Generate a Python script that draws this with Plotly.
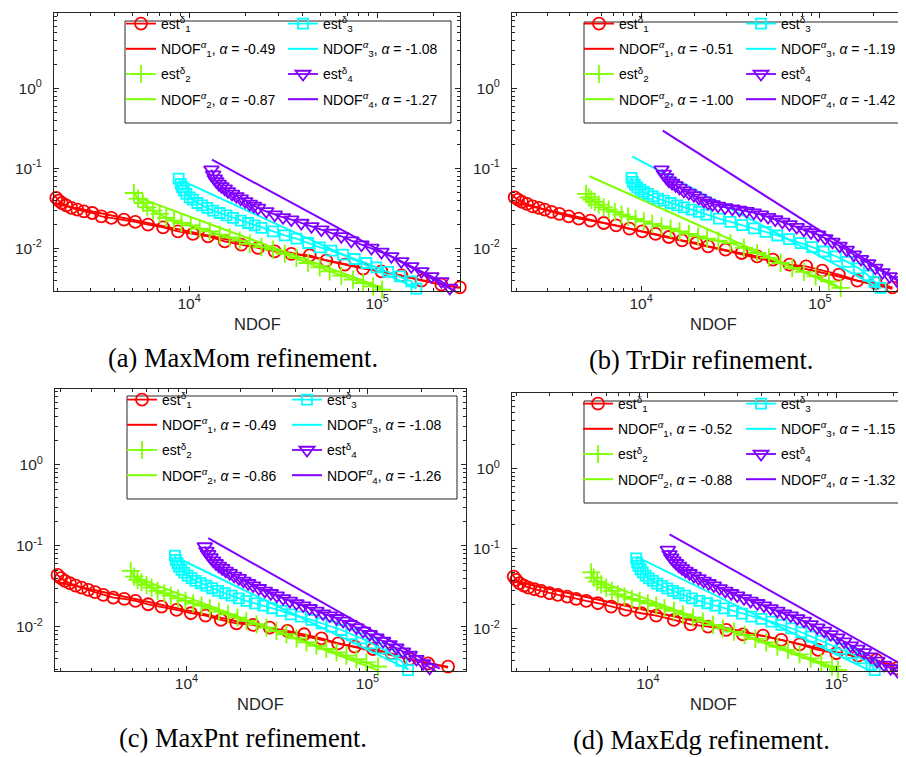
### Four log-log convergence plots (est vs NDOF) with LaTeX-like captions
import numpy as np
import plotly.graph_objects as go

### Data, stored as log10(NDOF) and log10(est)
# (a) MaxMom refinement
a_lgN1 = [3.282, 3.294, 3.307, 3.324, 3.347, 3.374, 3.406, 3.441, 3.486, 3.534, 3.587, 3.654, 3.714, 3.782,
          3.862, 3.941, 4.021, 4.101, 4.190, 4.278, 4.367, 4.456, 4.544, 4.642, 4.730, 4.828, 4.926, 5.023,
          5.129, 5.236, 5.342, 5.440]
a_lgE1 = [-1.330, -1.371, -1.405, -1.434, -1.463, -1.496, -1.517, -1.538, -1.559, -1.600, -1.621, -1.642, -1.671,
          -1.705, -1.738, -1.788, -1.821, -1.850, -1.913, -1.955, -1.996, -2.038, -2.071, -2.088, -2.155, -2.205,
          -2.255, -2.288, -2.338, -2.405, -2.455, -2.488]
a_lgN2 = [3.707, 3.729, 3.755, 3.778, 3.809, 3.844, 3.879, 3.920, 3.959, 4.009, 4.057, 4.110, 4.163, 4.216,
          4.270, 4.323, 4.385, 4.447, 4.509, 4.571, 4.633, 4.695, 4.748, 4.810, 4.872, 4.926, 4.979, 5.027]
a_lgE2 = [-1.309, -1.379, -1.434, -1.488, -1.530, -1.571, -1.621, -1.655, -1.684, -1.713, -1.755, -1.788, -1.830,
          -1.863, -1.905, -1.945, -1.985, -2.017, -2.071, -2.121, -2.184, -2.238, -2.288, -2.342, -2.392, -2.434,
          -2.475, -2.518]
a_lgN3 = [3.945, 3.956, 3.963, 3.973, 3.986, 4.004, 4.021, 4.044, 4.069, 4.097, 4.128, 4.163, 4.199, 4.234,
          4.275, 4.314, 4.349, 4.385, 4.447, 4.509, 4.571, 4.633, 4.695, 4.757, 4.819, 4.881, 4.943, 4.996,
          5.059, 5.121, 5.182, 5.209]
a_lgE3 = [-1.130, -1.196, -1.238, -1.280, -1.321, -1.363, -1.392, -1.434, -1.463, -1.496, -1.530, -1.559, -1.588,
          -1.621, -1.655, -1.684, -1.713, -1.746, -1.788, -1.838, -1.880, -1.934, -1.988, -2.030, -2.080, -2.134,
          -2.184, -2.238, -2.296, -2.350, -2.413, -2.505]
a_lgN4 = [4.119, 4.128, 4.137, 4.145, 4.158, 4.172, 4.190, 4.207, 4.229, 4.252, 4.275, 4.299, 4.323, 4.345,
          4.367, 4.411, 4.456, 4.500, 4.544, 4.597, 4.651, 4.704, 4.757, 4.810, 4.863, 4.917, 4.970, 5.023,
          5.076, 5.129, 5.182, 5.236, 5.289, 5.342, 5.387, 5.413]
a_lgE4 = [-1.017, -1.080, -1.130, -1.163, -1.196, -1.225, -1.255, -1.288, -1.321, -1.350, -1.380, -1.413, -1.446,
          -1.470, -1.496, -1.538, -1.580, -1.613, -1.642, -1.684, -1.725, -1.767, -1.809, -1.850, -1.905, -1.955,
          -1.996, -2.046, -2.100, -2.163, -2.225, -2.288, -2.350, -2.413, -2.496, -2.571]
# fitted lines NDOF^alpha: start/end points
a_fitN = [[3.282, 5.440], [3.746, 5.027], [3.959, 5.209], [4.122, 5.413]]
a_fitE = [[-1.440, -2.497], [-1.380, -2.494], [-1.151, -2.501], [-0.893, -2.533]]
a_alpha = ["-0.49", "-0.87", "-1.08", "-1.27"]

# (b) TrDir refinement
b_lgN1 = [3.278, 3.293, 3.312, 3.334, 3.362, 3.394, 3.428, 3.461, 3.499, 3.543, 3.595, 3.651, 3.717, 3.791,
          3.860, 3.935, 4.006, 4.081, 4.155, 4.229, 4.308, 4.375, 4.472, 4.562, 4.649, 4.737, 4.830, 4.923,
          5.013, 5.106, 5.209, 5.312, 5.405]
b_lgE1 = [-1.321, -1.363, -1.392, -1.421, -1.446, -1.475, -1.496, -1.517, -1.546, -1.571, -1.600, -1.630, -1.655,
          -1.684, -1.713, -1.755, -1.788, -1.821, -1.859, -1.900, -1.934, -1.975, -2.017, -2.059, -2.100, -2.142,
          -2.205, -2.225, -2.280, -2.330, -2.405, -2.434, -2.488]
b_lgN2 = [3.692, 3.707, 3.722, 3.741, 3.763, 3.791, 3.819, 3.853, 3.890, 3.927, 3.969, 4.015, 4.062, 4.114,
          4.165, 4.215, 4.267, 4.319, 4.369, 4.432, 4.500, 4.575, 4.649, 4.715, 4.780, 4.845, 4.910, 4.976,
          5.050, 5.116]
b_lgE2 = [-1.321, -1.363, -1.392, -1.421, -1.455, -1.488, -1.517, -1.546, -1.580, -1.605, -1.634, -1.663, -1.696,
          -1.725, -1.755, -1.788, -1.821, -1.850, -1.880, -1.905, -1.934, -1.996, -2.059, -2.121, -2.184, -2.246,
          -2.296, -2.350, -2.413, -2.496]
b_lgN3 = [3.946, 3.953, 3.965, 3.978, 3.997, 4.015, 4.039, 4.065, 4.095, 4.127, 4.165, 4.201, 4.239, 4.282,
          4.323, 4.364, 4.435, 4.500, 4.565, 4.631, 4.696, 4.761, 4.827, 4.892, 4.957, 5.022, 5.088, 5.153,
          5.218, 5.270, 5.305, 5.340]
b_lgE3 = [-1.121, -1.171, -1.205, -1.238, -1.267, -1.296, -1.321, -1.350, -1.380, -1.405, -1.434, -1.463, -1.488,
          -1.517, -1.546, -1.580, -1.630, -1.670, -1.710, -1.750, -1.795, -1.840, -1.885, -1.935, -1.985, -2.040,
          -2.100, -2.170, -2.250, -2.340, -2.420, -2.496]
b_lgN4 = [4.114, 4.127, 4.140, 4.155, 4.173, 4.193, 4.215, 4.239, 4.267, 4.295, 4.323, 4.351, 4.375, 4.400,
          4.430, 4.470, 4.510, 4.550, 4.590, 4.630, 4.670, 4.710, 4.750, 4.790, 4.830, 4.870, 4.910, 4.950,
          4.990, 5.030, 5.070, 5.110, 5.150, 5.190, 5.230, 5.270, 5.310, 5.350, 5.390, 5.430, 5.470, 5.510, 5.550]
b_lgE4 = [-1.017, -1.071, -1.113, -1.155, -1.184, -1.213, -1.246, -1.280, -1.309, -1.338, -1.371, -1.405, -1.434,
          -1.450, -1.470, -1.490, -1.505, -1.520, -1.535, -1.555, -1.580, -1.610, -1.640, -1.670, -1.700, -1.735,
          -1.770, -1.800, -1.830, -1.875, -1.920, -1.970, -2.020, -2.080, -2.135, -2.190, -2.245, -2.300, -2.350,
          -2.400, -2.450, -2.510, -2.560]
b_fitN = [[3.278, 5.405], [3.711, 5.116], [3.950, 5.340], [4.121, 5.550]]
b_fitE = [[-1.420, -2.505], [-1.100, -2.505], [-0.850, -2.504], [-0.530, -2.559]]
b_alpha = ["-0.51", "-1.00", "-1.19", "-1.42"]

# (c) MaxPnt refinement
c_lgN1 = [3.273, 3.287, 3.306, 3.328, 3.355, 3.387, 3.420, 3.457, 3.494, 3.540, 3.595, 3.656, 3.718, 3.788,
          3.862, 3.945, 4.024, 4.105, 4.190, 4.276, 4.368, 4.460, 4.558, 4.650, 4.746, 4.838, 4.930, 5.031,
          5.133, 5.234, 5.335, 5.446]
c_lgE1 = [-1.309, -1.359, -1.400, -1.433, -1.462, -1.491, -1.516, -1.545, -1.573, -1.606, -1.639, -1.656, -1.681,
          -1.722, -1.751, -1.792, -1.833, -1.862, -1.916, -1.957, -1.978, -2.011, -2.052, -2.093, -2.143, -2.205,
          -2.246, -2.275, -2.328, -2.399, -2.452, -2.493]
c_lgN2 = [3.692, 3.711, 3.729, 3.751, 3.779, 3.807, 3.840, 3.877, 3.913, 3.954, 3.994, 4.037, 4.083, 4.129,
          4.179, 4.230, 4.282, 4.331, 4.387, 4.442, 4.497, 4.552, 4.608, 4.663, 4.718, 4.773, 4.829, 4.884,
          4.939, 4.994, 5.059]
c_lgE2 = [-1.309, -1.380, -1.421, -1.450, -1.483, -1.516, -1.557, -1.586, -1.615, -1.648, -1.681, -1.710, -1.738,
          -1.771, -1.813, -1.846, -1.887, -1.928, -1.969, -2.011, -2.052, -2.093, -2.143, -2.192, -2.234, -2.275,
          -2.316, -2.357, -2.399, -2.440, -2.493]
c_lgN3 = [3.936, 3.941, 3.950, 3.959, 3.972, 3.987, 4.006, 4.028, 4.050, 4.079, 4.110, 4.142, 4.175, 4.212,
          4.249, 4.289, 4.331, 4.378, 4.424, 4.473, 4.525, 4.576, 4.632, 4.691, 4.746, 4.801, 4.856, 4.912,
          4.967, 5.022, 5.077, 5.133, 5.188, 5.225]
c_lgE3 = [-1.120, -1.173, -1.215, -1.256, -1.297, -1.330, -1.367, -1.400, -1.433, -1.462, -1.491, -1.524, -1.557,
          -1.586, -1.615, -1.648, -1.681, -1.710, -1.738, -1.771, -1.804, -1.846, -1.875, -1.916, -1.957, -1.998,
          -2.040, -2.093, -2.143, -2.205, -2.267, -2.341, -2.423, -2.535]
c_lgN4 = [4.101, 4.110, 4.120, 4.133, 4.147, 4.162, 4.179, 4.197, 4.217, 4.239, 4.263, 4.289, 4.315, 4.341,
          4.368, 4.400, 4.433, 4.466, 4.499, 4.534, 4.571, 4.608, 4.645, 4.681, 4.718, 4.755, 4.792, 4.829,
          4.866, 4.902, 4.939, 4.976, 5.013, 5.050, 5.087, 5.123, 5.160, 5.197, 5.234, 5.271, 5.308, 5.344,
          5.381, 5.400]
c_lgE4 = [-1.008, -1.062, -1.103, -1.144, -1.182, -1.215, -1.248, -1.276, -1.309, -1.338, -1.371, -1.400, -1.433,
          -1.462, -1.491, -1.524, -1.557, -1.586, -1.615, -1.648, -1.681, -1.710, -1.738, -1.771, -1.804, -1.837,
          -1.862, -1.895, -1.928, -1.969, -2.011, -2.052, -2.093, -2.135, -2.176, -2.217, -2.258, -2.308, -2.349,
          -2.399, -2.452, -2.506, -2.555, -2.597]
c_fitN = [[3.273, 5.446], [3.724, 5.059], [3.954, 5.225], [4.120, 5.400]]
c_fitE = [[-1.440, -2.505], [-1.392, -2.540], [-1.153, -2.526], [-0.905, -2.518]]
c_alpha = ["-0.49", "-0.86", "-1.08", "-1.26"]

# (d) MaxEdg refinement
d_lgN1 = [3.278, 3.288, 3.301, 3.319, 3.342, 3.366, 3.398, 3.434, 3.478, 3.522, 3.572, 3.619, 3.673, 3.735,
          3.805, 3.880, 3.965, 4.044, 4.138, 4.227, 4.319, 4.416, 4.504, 4.611, 4.708, 4.805, 4.903, 5.000,
          5.115, 5.212, 5.319, 5.398]
d_lgE1 = [-1.308, -1.350, -1.392, -1.433, -1.463, -1.488, -1.508, -1.529, -1.558, -1.579, -1.600, -1.629, -1.654,
          -1.683, -1.725, -1.767, -1.808, -1.838, -1.892, -1.946, -1.975, -2.017, -2.071, -2.088, -2.142, -2.196,
          -2.267, -2.308, -2.338, -2.392, -2.496, -2.529]
d_lgN2 = [3.699, 3.713, 3.731, 3.752, 3.779, 3.809, 3.841, 3.876, 3.915, 3.956, 4.000, 4.044, 4.088, 4.138,
          4.186, 4.239, 4.292, 4.345, 4.398, 4.457, 4.513, 4.570, 4.628, 4.687, 4.743, 4.805, 4.864, 4.920,
          4.977, 5.009]
d_lgE2 = [-1.296, -1.363, -1.413, -1.446, -1.488, -1.529, -1.571, -1.600, -1.629, -1.654, -1.683, -1.713, -1.746,
          -1.779, -1.821, -1.863, -1.913, -1.954, -1.996, -2.038, -2.079, -2.129, -2.171, -2.225, -2.267, -2.321,
          -2.371, -2.421, -2.475, -2.517]
d_lgN3 = [3.938, 3.943, 3.950, 3.961, 3.973, 3.988, 4.005, 4.027, 4.050, 4.074, 4.103, 4.133, 4.163, 4.198,
          4.234, 4.274, 4.315, 4.358, 4.404, 4.451, 4.499, 4.549, 4.602, 4.655, 4.708, 4.761, 4.814, 4.867,
          4.920, 4.973, 5.027, 5.080, 5.133, 5.186, 5.204]
d_lgE3 = [-1.121, -1.175, -1.217, -1.258, -1.296, -1.338, -1.371, -1.404, -1.438, -1.467, -1.496, -1.529, -1.558,
          -1.588, -1.621, -1.654, -1.683, -1.713, -1.746, -1.779, -1.813, -1.850, -1.879, -1.913, -1.954, -1.996,
          -2.046, -2.100, -2.154, -2.204, -2.254, -2.308, -2.371, -2.454, -2.520]
d_lgN4 = [4.106, 4.115, 4.124, 4.136, 4.150, 4.165, 4.181, 4.200, 4.221, 4.244, 4.269, 4.296, 4.322, 4.350,
          4.381, 4.411, 4.442, 4.474, 4.510, 4.545, 4.581, 4.616, 4.651, 4.687, 4.722, 4.758, 4.793, 4.828,
          4.864, 4.899, 4.935, 4.970, 5.005, 5.041, 5.076, 5.112, 5.147, 5.182, 5.218, 5.253, 5.288, 5.324,
          5.359, 5.395]
d_lgE4 = [-1.017, -1.071, -1.113, -1.150, -1.183, -1.217, -1.246, -1.279, -1.308, -1.342, -1.371, -1.404, -1.433,
          -1.463, -1.496, -1.529, -1.558, -1.588, -1.621, -1.654, -1.683, -1.713, -1.746, -1.779, -1.813, -1.838,
          -1.871, -1.904, -1.946, -1.988, -2.029, -2.071, -2.113, -2.163, -2.213, -2.254, -2.296, -2.350, -2.404,
          -2.454, -2.496, -2.529, -2.558, -2.600]
d_fitN = [[3.278, 5.398], [3.735, 5.009], [3.938, 5.204], [4.115, 5.395]]
d_fitE = [[-1.400, -2.502], [-1.404, -2.525], [-1.100, -2.556], [-0.821, -2.511]]
d_alpha = ["-0.52", "-0.88", "-1.15", "-1.32"]

x_tickvals = [1e4, 1e5]
x_ticktext = ["10<sup>4</sup>", "10<sup>5</sup>"]
y_tickvals = [1, 0.1, 0.01]
y_ticktext = ["10<sup>0</sup>", "10<sup>-1</sup>", "10<sup>-2</sup>"]

### Styling
W, H = 906, 757
COLORS = ["#ff0000", "#80ff00", "#00ffff", "#8000ff"]
SYMBOLS = ["circle-open", "cross-thin-open", "square-open", "triangle-down-open"]
SIZES = [12, 13, 10, 13]
AXC = "#262626"
SANS = "Liberation Sans, Arial, Helvetica, sans-serif"
SERIF = "Liberation Serif, Times New Roman, serif"

# pixel geometry of each panel: axes box, log ranges, caption, legend columns
panels = [
    dict(name="(a) MaxMom refinement.", box=(46, 452, 5, 283), xr=(3.282, 5.441), yr=(-2.534, 0.941),
         cap=(235, 350), lbox=(117, 443, 13, 115), cols=(122, 284), row1=25,
         N=[a_lgN1, a_lgN2, a_lgN3, a_lgN4], E=[a_lgE1, a_lgE2, a_lgE3, a_lgE4],
         fitN=a_fitN, fitE=a_fitE, alpha=a_alpha),
    dict(name="(b) TrDir refinement.", box=(504, 906, 5, 283), xr=(3.278, 5.526), yr=(-2.534, 0.941),
         cap=(693, 352), lbox=(576, 905, 14, 115), cols=(580, 742), row1=25,
         N=[b_lgN1, b_lgN2, b_lgN3, b_lgN4], E=[b_lgE1, b_lgE2, b_lgE3, b_lgE4],
         fitN=b_fitN, fitE=b_fitE, alpha=b_alpha),
    dict(name="(c) MaxPnt refinement.", box=(47, 458, 381, 663), xr=(3.273, 5.545), yr=(-2.547, 0.939),
         cap=(235, 730), lbox=(119, 449, 388, 491), cols=(123, 288), row1=401,
         N=[c_lgN1, c_lgN2, c_lgN3, c_lgN4], E=[c_lgE1, c_lgE2, c_lgE3, c_lgE4],
         fitN=c_fitN, fitE=c_fitE, alpha=c_alpha),
    dict(name="(d) MaxEdg refinement.", box=(504, 906, 385, 663), xr=(3.279, 5.412), yr=(-2.530, 0.945),
         cap=(693, 732), lbox=(576, 902, 393, 495), cols=(579, 742), row1=405,
         N=[d_lgN1, d_lgN2, d_lgN3, d_lgN4], E=[d_lgE1, d_lgE2, d_lgE3, d_lgE4],
         fitN=d_fitN, fitE=d_fitE, alpha=d_alpha),
]


def axis_style():
    return dict(type="log", showgrid=False, zeroline=False, showline=True, linecolor=AXC, linewidth=1,
                mirror="ticks", ticks="inside", ticklen=5, tickcolor=AXC, tickwidth=1,
                minor=dict(ticks="inside", ticklen=3, dtick="D1", tickcolor=AXC, tickwidth=1, showgrid=False),
                tickfont=dict(family=SANS, size=15.5, color=AXC))


fig = go.Figure()
layout = dict(width=W, height=H, margin=dict(l=0, r=0, t=0, b=0), paper_bgcolor="white",
              plot_bgcolor="white", showlegend=True, shapes=[], annotations=[])

for i, p in enumerate(panels):
    sfx = "" if i == 0 else str(i + 1)
    x0, x1, y0, y1 = p["box"]
    xa = axis_style()
    xa.update(domain=[x0 / W, x1 / W], range=list(p["xr"]), anchor="y" + sfx, tickmode="array",
              tickvals=x_tickvals, ticktext=x_ticktext, ticklabelstandoff=-2)
    ya = axis_style()
    ya.update(domain=[1 - y1 / H, 1 - y0 / H], range=list(p["yr"]), anchor="x" + sfx, tickmode="array",
              tickvals=y_tickvals, ticktext=y_ticktext, ticklabelstandoff=8)
    layout["xaxis" + sfx] = xa
    layout["yaxis" + sfx] = ya

    for k in range(4):
        leg = 2 * i + (1 if k < 2 else 2)
        legname = "legend" if leg == 1 else "legend%d" % leg
        sub = k + 1
        # estimator curve
        fig.add_trace(go.Scatter(
            x=np.power(10.0, p["N"][k]), y=np.power(10.0, p["E"][k]), xaxis="x" + sfx, yaxis="y" + sfx,
            mode="lines+markers", cliponaxis=False, legend=legname, legendgroup="g%d_%d_e" % (i, k),
            name="est<sup>δ</sup><sub>%d</sub>" % sub,
            line=dict(color=COLORS[k], width=1.8),
            marker=dict(symbol=SYMBOLS[k], size=SIZES[k], color=COLORS[k],
                        line=dict(color=COLORS[k], width=1.8))))
        # fitted rate line
        fig.add_trace(go.Scatter(
            x=np.power(10.0, p["fitN"][k]), y=np.power(10.0, p["fitE"][k]), xaxis="x" + sfx, yaxis="y" + sfx,
            mode="lines", cliponaxis=False, legend=legname, legendgroup="g%d_%d_f" % (i, k),
            name="NDOF<sup><i>α</i></sup><sub>%d</sub>, <i>α</i> = %s" % (sub, p["alpha"][k]),
            line=dict(color=COLORS[k], width=2)))

    # legend frame
    lx0, lx1, ly0, ly1 = p["lbox"]
    layout["shapes"].append(dict(type="rect", xref="paper", yref="paper", x0=lx0 / W, x1=lx1 / W,
                                 y0=1 - ly1 / H, y1=1 - ly0 / H, fillcolor="white",
                                 line=dict(color=AXC, width=1), layer="above"))
    for c, cx in enumerate(p["cols"]):
        leg = 2 * i + 1 + c
        legname = "legend" if leg == 1 else "legend%d" % leg
        layout[legname] = dict(x=(cx - 9) / W, y=1 - (p["row1"] - 25) / H, xanchor="left", yanchor="top",
                               orientation="v", bgcolor="rgba(0,0,0,0)", borderwidth=0,
                               tracegroupgap=4, itemwidth=30, traceorder="grouped",
                               font=dict(family=SANS, size=14, color="black"))

    # x-axis title and caption
    layout["annotations"].append(dict(text="NDOF", xref="paper", yref="paper", x=(x0 + x1) / 2 / W,
                                      y=1 - (y1 + 33) / H, xanchor="center", yanchor="middle",
                                      showarrow=False, font=dict(family=SANS, size=16.5, color=AXC)))
    layout["annotations"].append(dict(text=p["name"], xref="paper", yref="paper", x=p["cap"][0] / W,
                                      y=1 - p["cap"][1] / H, xanchor="center", yanchor="middle",
                                      showarrow=False, font=dict(family=SERIF, size=26.5, color="black")))

fig.update_layout(**layout)
fig.write_html("out.html")
